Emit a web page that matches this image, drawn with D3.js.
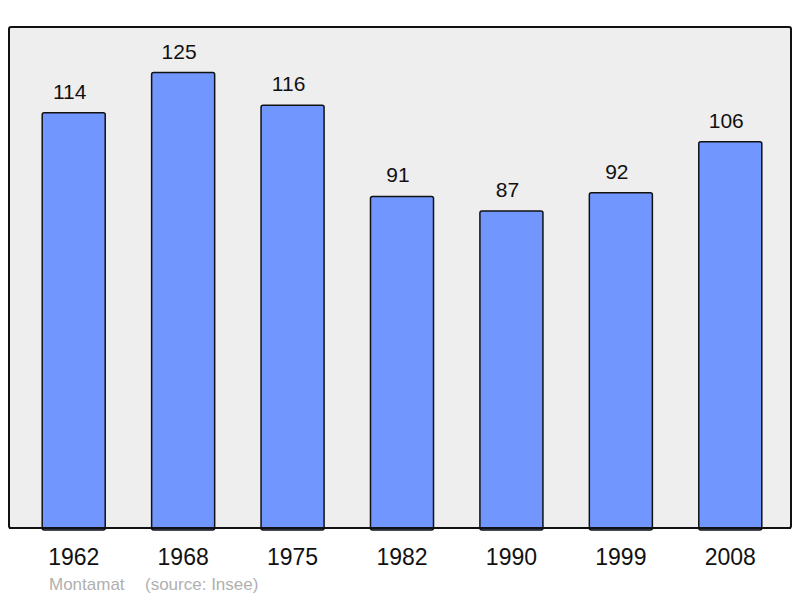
<!DOCTYPE html>
<html>
<head>
<meta charset="utf-8">
<script src="https://cdn.jsdelivr.net/npm/d3@7"></script>
<style>
  body { margin: 0; background: #fff; }
  text { font-family: "Liberation Sans", Arial, sans-serif; }
</style>
</head>
<body>
<div id="chart"></div>
<script>
const years = ["1962", "1968", "1975", "1982", "1990", "1999", "2008"];
const population = [114, 125, 116, 91, 87, 92, 106];
const credits = ["Montamat", "(source: Insee)"];

const width = 800, height = 598;
const panel = { x: 9, y: 27, w: 782, h: 501 };

const svg = d3.select("#chart")
  .append("svg")
  .attr("width", width)
  .attr("height", height);

svg.append("rect")
  .attr("x", panel.x)
  .attr("y", panel.y)
  .attr("width", panel.w)
  .attr("height", panel.h)
  .attr("rx", 2)
  .attr("fill", "#eeeeee")
  .attr("stroke", "#111")
  .attr("stroke-width", 2);

const x = d3.scaleBand()
  .domain(years)
  .range([19, 785])
  .paddingInner(0.424)
  .paddingOuter(0.212);

const y = d3.scaleLinear()
  .domain([0, d3.max(population) * 1.1])
  .range([panel.y + panel.h, panel.y]);

const data = years.map((yr, i) => ({ year: yr, value: population[i] }));

svg.selectAll(".bar")
  .data(data)
  .enter()
  .append("rect")
  .attr("class", "bar")
  .attr("x", d => x(d.year))
  .attr("y", d => y(d.value))
  .attr("width", x.bandwidth())
  .attr("height", d => y(0) - y(d.value) + 2)
  .attr("rx", 2)
  .attr("fill", "#7197ff")
  .attr("stroke", "#111")
  .attr("stroke-width", 1.5);

// redraw the bottom edge of the panel over the bars
svg.append("line")
  .attr("x1", panel.x)
  .attr("x2", panel.x + panel.w)
  .attr("y1", panel.y + panel.h)
  .attr("y2", panel.y + panel.h)
  .attr("stroke", "#111")
  .attr("stroke-width", 2);

// value labels sit a little left of the bar centre in the original
svg.selectAll(".label")
  .data(data)
  .enter()
  .append("text")
  .attr("class", "label")
  .attr("x", d => x(d.year) + x.bandwidth() / 2 - 4)
  .attr("y", d => y(d.value) - 14)
  .attr("text-anchor", "middle")
  .style("font-size", "21px")
  .style("fill", "#111")
  .text(d => d.value);

const axis = svg.append("g")
  .attr("transform", `translate(0,${panel.y + panel.h})`)
  .call(d3.axisBottom(x).tickSize(0).tickPadding(21));
axis.select(".domain").remove();
axis.selectAll("text")
  .attr("dy", "0.71em")
  .style("font-size", "23px")
  .style("font-family", "'Liberation Sans', Arial, sans-serif")
  .style("fill", "#111");

svg.append("text")
  .attr("x", 49)
  .attr("y", 590)
  .style("font-size", "17px")
  .style("fill", "#b0b0b0")
  .text(credits[0]);

svg.append("text")
  .attr("x", 145)
  .attr("y", 590)
  .style("font-size", "17px")
  .style("fill", "#b0b0b0")
  .text(credits[1]);
</script>
</body>
</html>
